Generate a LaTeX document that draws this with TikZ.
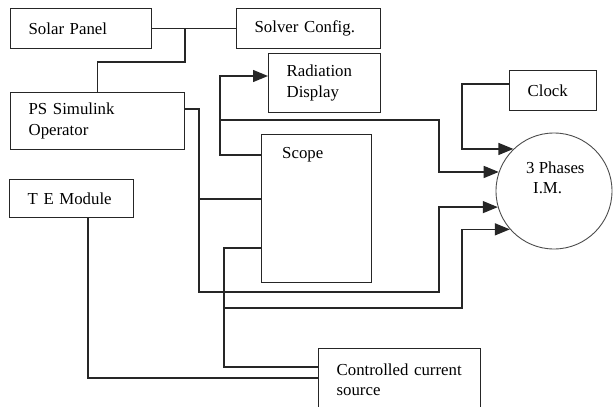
\documentclass[tikz,border=0pt]{standalone}
\usepackage{fontspec}
\setmainfont{Liberation Serif}
\usetikzlibrary{arrows.meta,positioning,calc}

\begin{document}
\begin{tikzpicture}[
      x=1pt,y=-1pt,
      >={Triangle[length=15pt,width=12pt]},
      font=\fontsize{16.8}{20.5}\selectfont,
      blk/.style={draw=black!85,line width=1.3pt,align=left,inner xsep=18pt,inner ysep=0pt,anchor=north west},
      wire/.style={draw=black!85,line width=1.3pt},
      motor/.style={draw=black!70,line width=0.9pt,circle,minimum size=116pt,inner sep=0pt}
    ]
    \useasboundingbox (0,0) rectangle (614,407);

    \node[blk,text width=105pt,minimum height=40pt] (solar)   at (10,8)    {Solar Panel};
    \node[blk,text width=108pt,minimum height=40pt] (solver)  at (236,8)   {Solver Config.};
    \node[blk,text width=138pt,minimum height=57pt] (psop)    at (10,92)   {PS Simulink\\Operator};
    \node[blk,text width=76pt,minimum height=59pt]  (raddisp) at (268,53)  {Radiation\\Display};
    \node[blk,text width=88pt,minimum height=38pt]  (temod)   at (9,179)   {T E Module};
    \node[blk,text width=51pt,minimum height=40pt]  (clock)   at (509,70)  {Clock};
    \node[blk,text width=126pt,minimum height=62pt] (ccs)     at (318,348) {Controlled current\\source};

    \node[blk,minimum width=110pt,minimum height=148pt] (scope) at (261,134) {};
    \node[anchor=west,inner sep=0pt] (scopetxt) at ($(scope.north west)+(21,21)$) {Scope};

    \node[motor] (im) at (554,191) {};
    \node[align=left,anchor=west,inner sep=0pt] (imtxt) at (526,178) {3 Phases\\\hspace*{7pt}I.M.};

    % solar panel, solver and PS operator
    \coordinate (spj) at (185,62);
    \draw[wire] (solar) -- (solver);
    \draw[wire] (solar.east -| spj) -- (spj) -| (psop.north);

    % PS operator out to the scope and the motor
    \coordinate (psout) at ($(psop.north east)+(0,17)$);
    \coordinate (psj) at (199,199);
    \draw[wire,->] (psout) -| (199,292) -- (439,292) |- (im.196);
    \draw[wire] (psj) -- (psj -| scope.west);

    % scope to radiation display and motor
    \coordinate (radin) at ($(raddisp.north west)+(0,23)$);
    \coordinate (scj) at (220,120);
    \draw[wire,->] ($(scope.north west)+(0,21)$) -| (scj |- radin) -- (radin);
    \draw[wire,->] (scj) -- (439,120) |- (im.161);

    % scope to controlled source and motor
    \coordinate (ccsin) at ($(ccs.north west)+(0,19)$);
    \coordinate (ccj) at (224,308);
    \draw[wire] ($(scope.north west)+(0,114)$) -| (ccj |- ccsin) -- (ccsin);
    \draw[wire,->] (ccj) -- (462,308) |- (im.221);

    % T E module to controlled source
    \coordinate (teout) at ($(temod.south west)+(79,0)$);
    \coordinate (tein) at ($(ccs.north west)+(0,30)$);
    \draw[wire] (teout) |- (tein);

    % clock to motor
    \coordinate (clkout) at ($(clock.north west)+(0,14)$);
    \coordinate (clkj) at (462,110);
    \draw[wire,->] (clkout) -| (clkj) |- (im.134);
  \end{tikzpicture}
\end{document}
